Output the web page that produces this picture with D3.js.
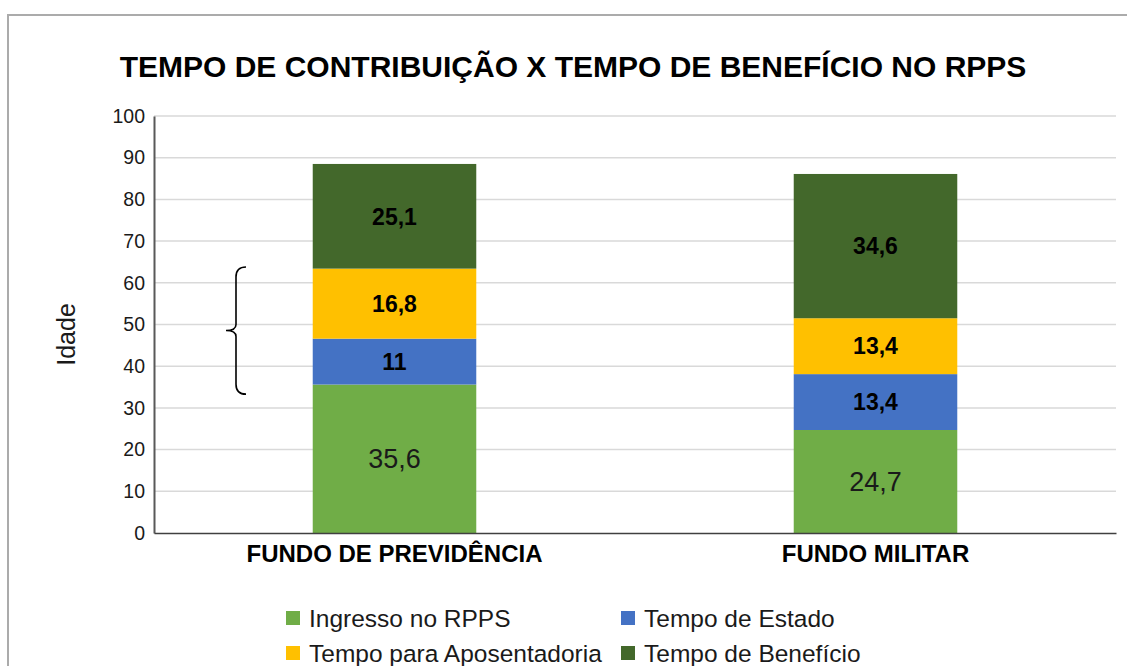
<!DOCTYPE html>
<html>
<head>
<meta charset="utf-8">
<script src="https://cdn.jsdelivr.net/npm/d3@7"></script>
<style>
  body { margin: 0; background: #fff; }
  svg { font-family: "Liberation Sans", Arial, sans-serif; }
</style>
</head>
<body>
<svg id="chart" width="1127" height="666"></svg>
<script>
const categories = ["FUNDO DE PREVIDÊNCIA", "FUNDO MILITAR"];
const seriesNames = ["Ingresso no RPPS", "Tempo de Estado", "Tempo para Aposentadoria", "Tempo de Benefício"];
const ingresso = [35.6, 24.7];
const tempoEstado = [11, 13.4];
const tempoAposentadoria = [16.8, 13.4];
const tempoBeneficio = [25.1, 34.6];
const yTicks = [0, 10, 20, 30, 40, 50, 60, 70, 80, 90, 100];
const colors = ["#70ad47", "#4472c4", "#ffc000", "#43682b"];
const braceRange = [33.3, 63.8]; // chave desenhada ao lado da 1a barra

const svg = d3.select("#chart");
const W = 1127, H = 666;
const m = { left: 154, right: 11, top: 116, bottom: 133 };

// moldura
svg.append("rect").attr("x", 8).attr("y", 15).attr("width", 1130).attr("height", 700)
  .attr("fill", "none").attr("stroke", "#ababab").attr("stroke-width", 2);

svg.append("text").attr("x", 573).attr("y", 77).attr("text-anchor", "middle")
  .attr("font-size", 30).attr("font-weight", "bold").attr("fill", "#000")
  .text("TEMPO DE CONTRIBUIÇÃO X TEMPO DE BENEFÍCIO NO RPPS");

const x = d3.scaleBand().domain(categories).range([m.left, W - m.right])
  .paddingInner(0.66).paddingOuter(0.33);
const y = d3.scaleLinear().domain([0, 100]).range([H - m.bottom, m.top]);

// grade
svg.append("g").selectAll("line").data(yTicks.filter(d => d > 0)).enter().append("line")
  .attr("x1", m.left).attr("x2", W - m.right)
  .attr("y1", d => y(d)).attr("y2", d => y(d))
  .attr("stroke", "#d9d9d9").attr("stroke-width", 1.5);

const series = [ingresso, tempoEstado, tempoAposentadoria, tempoBeneficio];
const rows = categories.map((c, i) => ({
  cat: c,
  s0: ingresso[i], s1: tempoEstado[i], s2: tempoAposentadoria[i], s3: tempoBeneficio[i]
}));
const stack = d3.stack().keys(["s0", "s1", "s2", "s3"])(rows);

const layers = svg.append("g").selectAll("g").data(stack).enter().append("g")
  .attr("fill", (d, i) => colors[i]);
layers.selectAll("rect").data(d => d).enter().append("rect")
  .attr("x", d => x(d.data.cat)).attr("width", x.bandwidth())
  .attr("y", d => y(d[1])).attr("height", d => y(d[0]) - y(d[1]));

const fmt = v => String(v).replace(".", ",");
stack.forEach((layer, li) => {
  svg.append("g").selectAll("text").data(layer).enter().append("text")
    .attr("x", d => x(d.data.cat) + x.bandwidth() / 2)
    .attr("y", d => y((d[0] + d[1]) / 2))
    .attr("dy", "0.36em")
    .attr("text-anchor", "middle")
    .attr("font-size", li === 0 ? 27 : 23)
    .attr("font-weight", li === 0 ? "normal" : "bold")
    .attr("fill", li === 0 ? "#1a1a1a" : "#000")
    .text((d, i) => fmt(series[li][i]));
});

// eixo Y
const yAxis = svg.append("g").attr("transform", `translate(${m.left},0)`)
  .call(d3.axisLeft(y).tickValues(yTicks).tickSize(0).tickPadding(9));
yAxis.select(".domain").attr("stroke", "#595959").attr("stroke-width", 2);
yAxis.selectAll("text").attr("font-size", 19.5).attr("fill", "#1a1a1a")
  .attr("font-family", "Liberation Sans, Arial, sans-serif");

// eixo X
const xAxis = svg.append("g").attr("transform", `translate(0,${H - m.bottom})`)
  .call(d3.axisBottom(x).tickSize(0).tickPadding(12));
xAxis.select(".domain").attr("stroke", "#404040").attr("stroke-width", 1.5);
xAxis.selectAll("text").attr("font-size", 24).attr("font-weight", "bold").attr("fill", "#000")
  .attr("font-family", "Liberation Sans, Arial, sans-serif");

svg.append("text").attr("transform", `translate(75,${(m.top + H - m.bottom) / 2 + 10}) rotate(-90)`)
  .attr("text-anchor", "middle").attr("font-size", 25).attr("fill", "#1a1a1a").text("Idade");

// chave
const bt = y(braceRange[1]), bb = y(braceRange[0]), bm = (bt + bb) / 2;
const bx = 236;
svg.append("path")
  .attr("d", `M${bx + 10},${bt} Q${bx},${bt} ${bx},${bt + 10} L${bx},${bm - 6} Q${bx},${bm} ${bx - 10},${bm}` +
    ` Q${bx},${bm} ${bx},${bm + 6} L${bx},${bb - 10} Q${bx},${bb} ${bx + 10},${bb}`)
  .attr("fill", "none").attr("stroke", "#000").attr("stroke-width", 1.6);

// legenda
const legendPos = [[286, 618], [621, 618], [286, 653], [621, 653]];
const order = [0, 1, 2, 3];
const leg = svg.append("g").selectAll("g").data(order).enter().append("g")
  .attr("transform", (d, i) => `translate(${legendPos[i][0]},${legendPos[i][1]})`);
leg.append("rect").attr("x", 0).attr("y", -7).attr("width", 14).attr("height", 14)
  .attr("fill", d => colors[d]);
leg.append("text").attr("x", 23).attr("dy", "0.36em").attr("font-size", 24.5).attr("fill", "#1a1a1a")
  .text(d => seriesNames[d]);
</script>
</body>
</html>
